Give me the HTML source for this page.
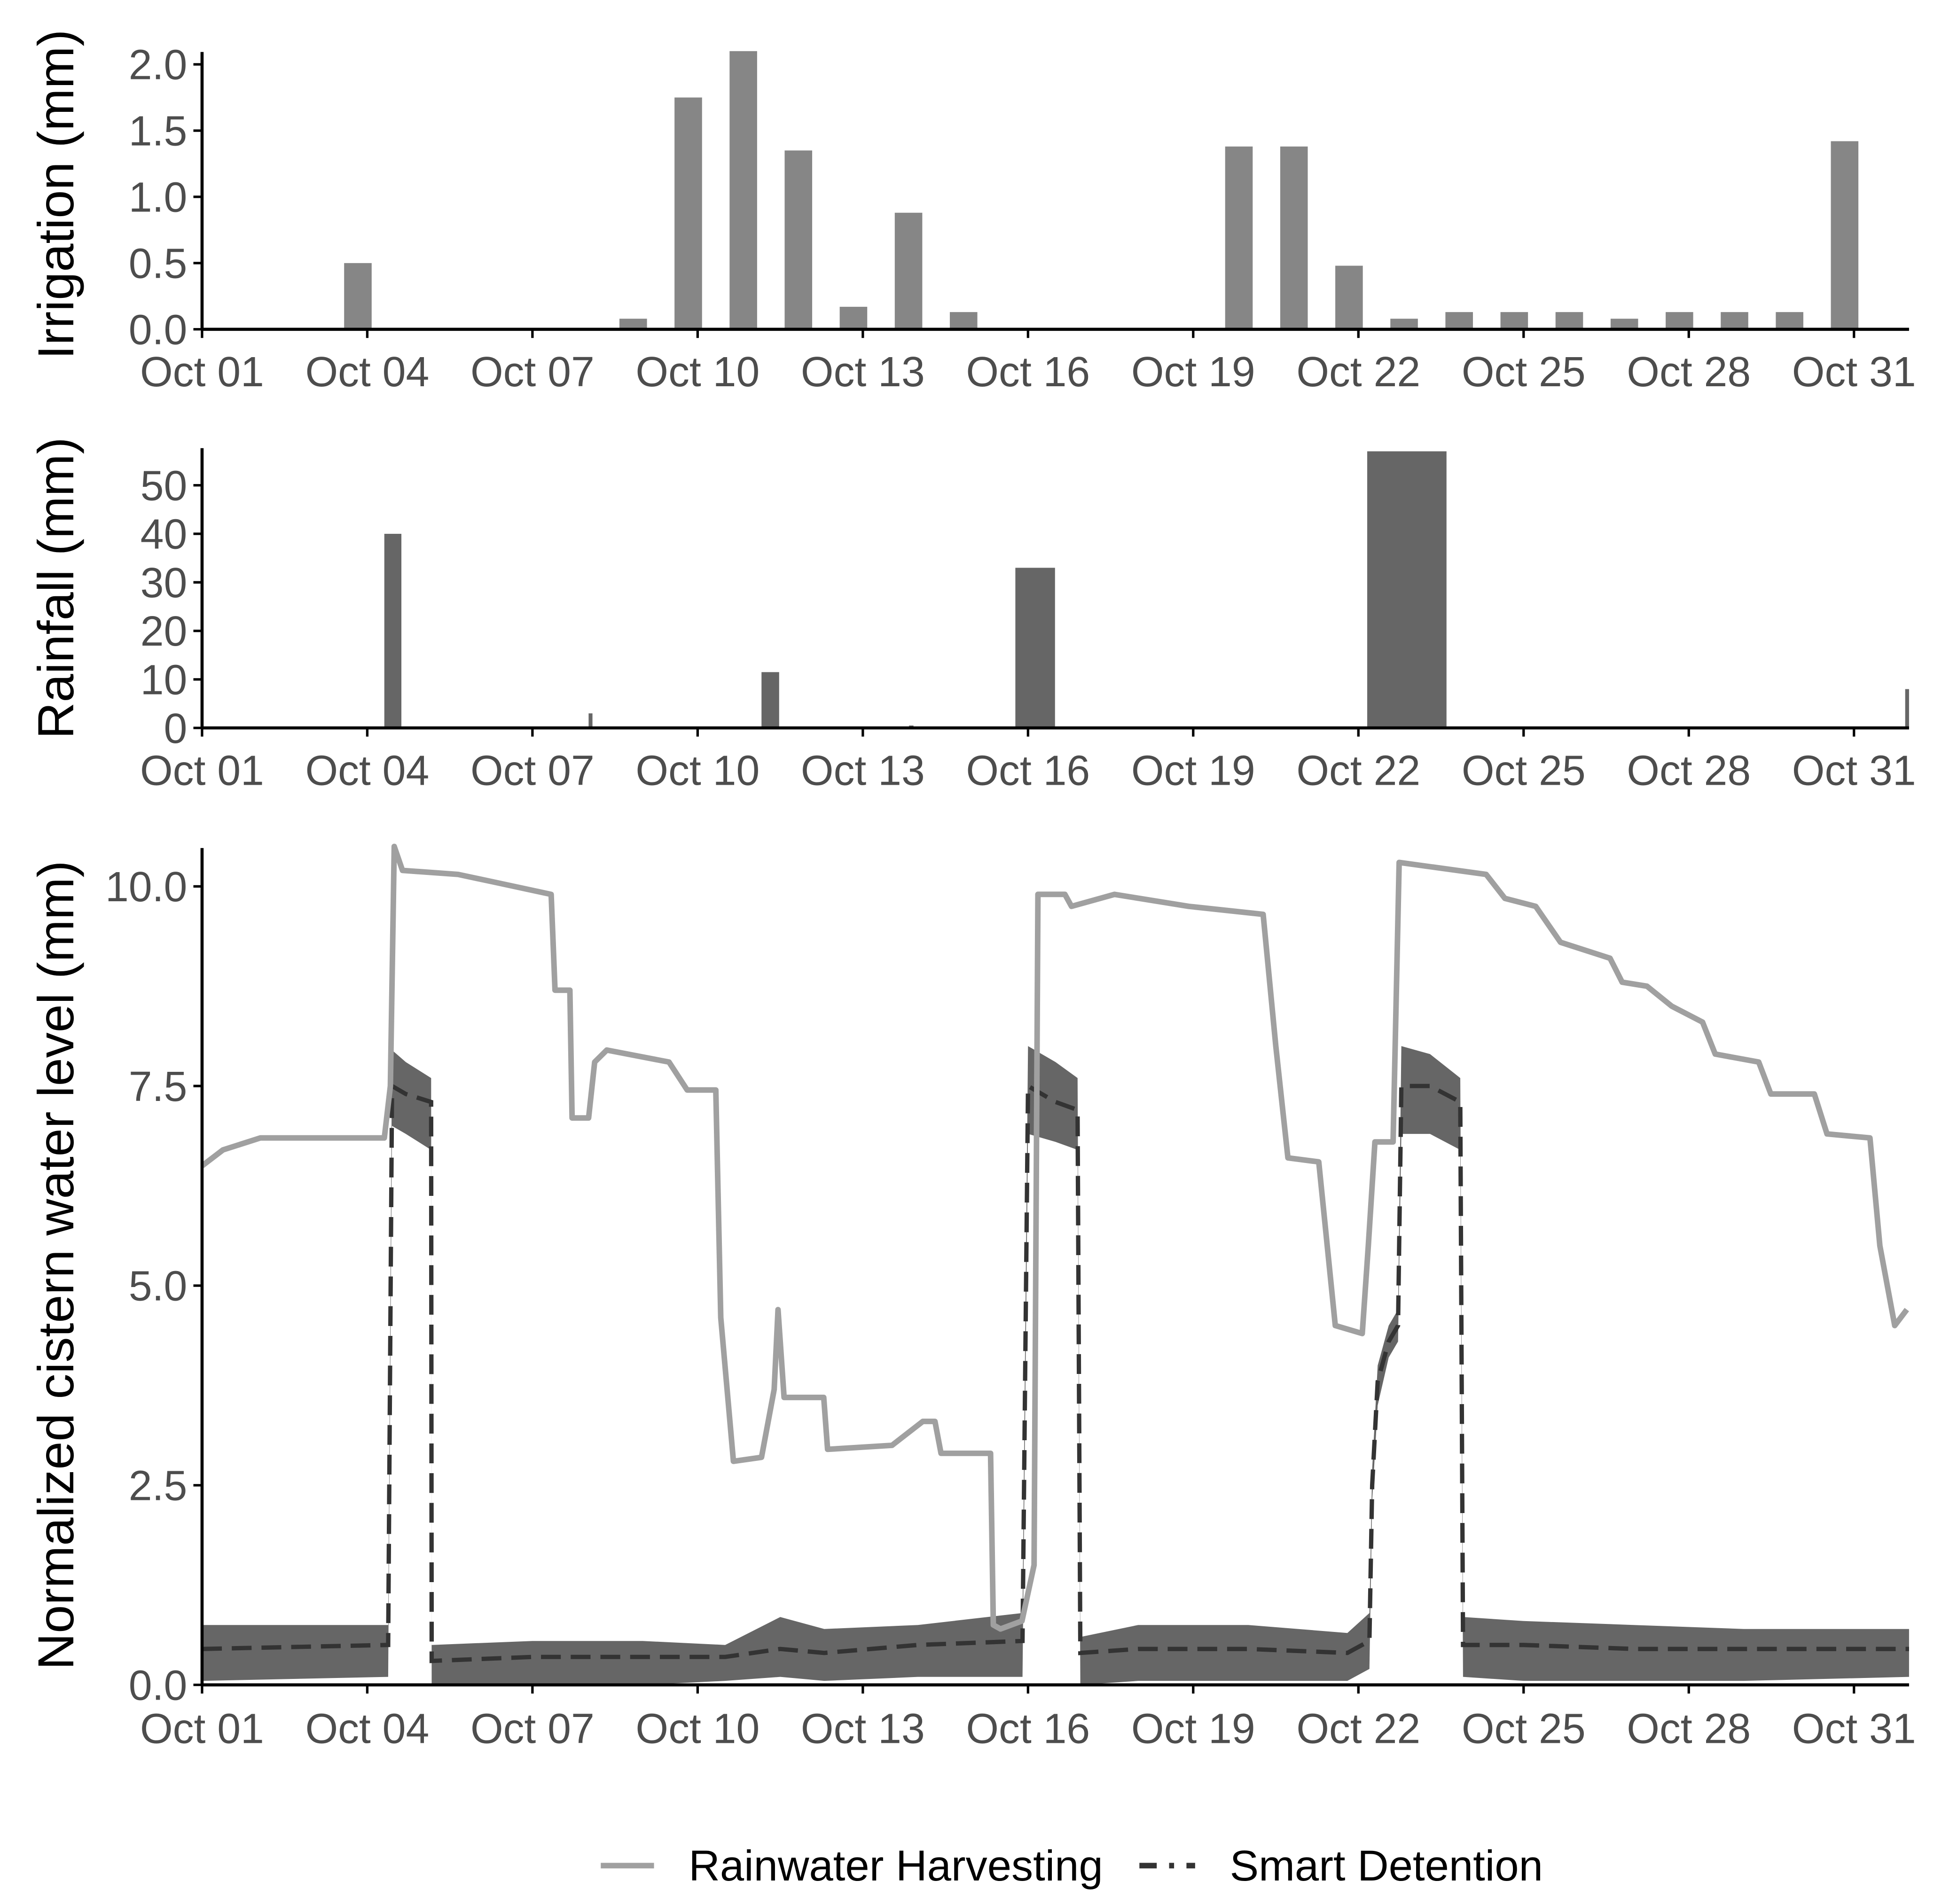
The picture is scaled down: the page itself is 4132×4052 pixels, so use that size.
<!DOCTYPE html>
<html><head><meta charset="utf-8"><style>
html,body{margin:0;padding:0;background:#fff}
svg{display:block}
text{font-family:"Liberation Sans",Arial,sans-serif}
</style></head><body>
<svg id="chart" width="4132" height="4052" viewBox="0 0 1568 1538" xmlns="http://www.w3.org/2000/svg">
<rect width="1568" height="1538" fill="#fff"/>
</svg>
<script>
// ---------- data ----------
const dateTicks = ["Oct 01","Oct 04","Oct 07","Oct 10","Oct 13","Oct 16","Oct 19","Oct 22","Oct 25","Oct 28","Oct 31"];
const irrDays = [3,8,9,10,11,12,13,14,19,20,21,22,23,24,25,26,27,28,29,30];
const irrValues = [0.5,0.08,1.75,2.1,1.35,0.17,0.88,0.13,1.38,1.38,0.48,0.08,0.13,0.13,0.13,0.08,0.13,0.13,0.13,1.42];
const irrTicks = [0,0.5,1.0,1.5,2.0];
const rainStart = [3.31,7.02,10.16,12.84,14.77,21.16,30.93];
const rainEnd   = [3.62,7.09,10.48,12.92,15.49,22.60,31.0];
const rainValues = [40,3,11.5,0.5,33,57,8];
const rainTicks = [0,10,20,30,40,50];
const levelTicks = [0,2.5,5.0,7.5,10.0];
const rhT = [0,0.38,1.06,3.31,3.42,3.49,3.64,4.65,5.33,6.34,6.41,6.68,6.72,7.02,7.13,7.35,8.48,8.81,9.33,9.42,9.65,10.16,10.39,10.46,10.57,11.29,11.36,12.53,13.09,13.31,13.42,14.32,14.37,14.50,14.89,15.11,15.18,15.67,15.79,16.57,17.92,19.27,19.50,19.72,20.28,20.58,21.07,21.18,21.30,21.63,21.74,23.32,23.66,24.22,24.67,25.57,25.79,26.24,26.69,27.25,27.48,28.27,28.49,29.28,29.51,30.29,30.47,30.74,30.96];
const rhV = [6.5,6.7,6.85,6.85,7.5,10.5,10.2,10.15,10.05,9.9,8.7,8.7,7.1,7.1,7.8,7.95,7.8,7.45,7.45,4.6,2.8,2.85,3.7,4.7,3.6,3.6,2.95,3.0,3.3,3.3,2.9,2.9,0.75,0.7,0.8,1.5,9.9,9.9,9.75,9.9,9.75,9.65,8.0,6.6,6.55,4.5,4.4,5.5,6.8,6.8,10.3,10.15,9.85,9.75,9.3,9.1,8.8,8.75,8.5,8.3,7.9,7.8,7.4,7.4,6.9,6.85,5.5,4.5,4.7];
const sdT  = [0,3.38,3.45,3.7,4.16,4.17,6.0,8.0,9.5,10.5,11.3,13.0,14.9,15.0,15.5,15.9,15.95,17,19,20.8,21.2,21.25,21.35,21.55,21.72,21.78,22.3,22.85,22.9,24,26,28,31];
const sdMid= [0.45,0.5,7.5,7.4,7.3,0.3,0.35,0.35,0.35,0.45,0.4,0.5,0.55,7.5,7.3,7.2,0.4,0.45,0.45,0.4,0.55,2.5,3.8,4.3,4.5,7.5,7.5,7.3,0.5,0.5,0.45,0.45,0.45];
const sdLo = [0.05,0.1,7.0,6.9,6.7,0.0,0.0,0.0,0.05,0.1,0.05,0.1,0.1,6.9,6.8,6.7,0.0,0.05,0.05,0.05,0.2,2.3,3.5,4.1,4.3,6.9,6.9,6.7,0.1,0.05,0.05,0.05,0.1];
const sdHi = [0.75,0.75,7.95,7.8,7.6,0.5,0.55,0.55,0.5,0.85,0.7,0.75,0.9,8.0,7.8,7.6,0.6,0.75,0.75,0.65,0.9,2.7,4.0,4.5,4.7,8.0,7.9,7.6,0.85,0.8,0.75,0.7,0.7];

// ---------- helpers ----------
const NS="http://www.w3.org/2000/svg";
const svg=document.getElementById('chart');
function mk(tag,attrs,parent){const e=document.createElementNS(NS,tag);for(const k in attrs)e.setAttribute(k,attrs[k]);(parent||svg).appendChild(e);return e;}
const X0=163, DAY=44.47, XEND=163+31*44.47;
const xs = t => X0 + t*DAY;

function axes(name, y0, yTop, ys, ticks, fmt, title, titleY, tickY){
  const g=mk('g',{});
  
  
  const yl=mk('line',{x1:X0,x2:X0,y1:yTop,y2:y0,stroke:'#000','stroke-width':2.5},g);
  
  
  const xl=mk('line',{x1:X0,x2:XEND,y1:y0,y2:y0,stroke:'#000','stroke-width':2.5},g);
  
  
  ticks.forEach(v=>{
    const y=ys(v);
    mk('line',{x1:X0-7,x2:X0,y1:y,y2:y,stroke:'#000','stroke-width':2},g);
    const t=mk('text',{x:X0-12,y:y+12,'text-anchor':'end','font-size':34,fill:'#4d4d4d'},g);
    t.textContent=fmt(v);
    
    
  });
  dateTicks.forEach((d,i)=>{
    const x=xs(i*3);
    mk('line',{x1:x,x2:x,y1:y0,y2:y0+7,stroke:'#000','stroke-width':2},g);
    const t=mk('text',{x:x,y:tickY,'text-anchor':'middle','font-size':34,fill:'#4d4d4d'},g);
    t.textContent=d;
    
    
  });
  const tt=mk('text',{x:0,y:0,'text-anchor':'middle','font-size':41,fill:'#000',transform:`translate(59,${titleY}) rotate(-90)`},g);
  tt.textContent=title;
  
  
}

// ---------- panel 1: irrigation ----------
const irrY = v => 266 - v*107;
const gI=mk('g',{});


irrDays.forEach((d,i)=>{
  const c=xs(d-0.17), w=0.5*DAY;
  const r=mk('rect',{x:c-w/2,y:irrY(irrValues[i]),width:w,height:266-irrY(irrValues[i]),fill:'#868686'},gI);
  
  
});
axes('irrigation',266,42,irrY,irrTicks,v=>v.toFixed(1),'Irrigation (mm)',157,312);

// ---------- panel 2: rainfall ----------
const rainY = v => Math.max(362, 588 - v*3.92);
const gR=mk('g',{});


rainValues.forEach((v,i)=>{
  const x1=xs(rainStart[i]), x2=xs(rainEnd[i]);
  const r=mk('rect',{x:x1,y:rainY(v),width:Math.max(2,x2-x1),height:588-rainY(v),fill:'#666'},gR);
  
  
});
axes('rainfall',588,362,rainY,rainTicks,v=>String(v),'Rainfall (mm)',475,634);

// ---------- panel 3: cistern level ----------
const lvY = v => 1361 - v*64.5;
const band=[];
sdT.forEach((t,i)=>band.push(xs(t)+','+lvY(sdHi[i])));
for(let i=sdT.length-1;i>=0;i--) band.push(xs(sdT[i])+','+lvY(sdLo[i]));
const sdBand=mk('polygon',{points:band.join(' '),fill:'#333','fill-opacity':0.75});


const sdLine=mk('polyline',{points:sdT.map((t,i)=>xs(t)+','+lvY(sdMid[i])).join(' '),fill:'none',stroke:'#333','stroke-width':3.5,'stroke-dasharray':'16 8'});


const rhLine=mk('polyline',{points:rhT.map((t,i)=>xs(t)+','+lvY(rhV[i])).join(' '),fill:'none',stroke:'#a0a0a0','stroke-width':4.5,'stroke-linejoin':'round'});


axes('level',1361,685,lvY,levelTicks,v=>v.toFixed(1),'Normalized cistern water level (mm)',1022,1408);

// ---------- legend ----------
const lg=mk('g',{});


const l1=mk('line',{x1:485,x2:528,y1:1507,y2:1507,stroke:'#a0a0a0','stroke-width':4.5},lg);


const t1=mk('text',{x:556,y:1519,'font-size':35,fill:'#000'},lg);
t1.textContent='Rainwater Harvesting';


const l2=mk('line',{x1:920,x2:965,y1:1507,y2:1507,stroke:'#333','stroke-width':4.5,'stroke-dasharray':'14 10 4 10'},lg);


const t2=mk('text',{x:993,y:1519,'font-size':35,fill:'#000'},lg);
t2.textContent='Smart Detention';


</script>
</body></html>
